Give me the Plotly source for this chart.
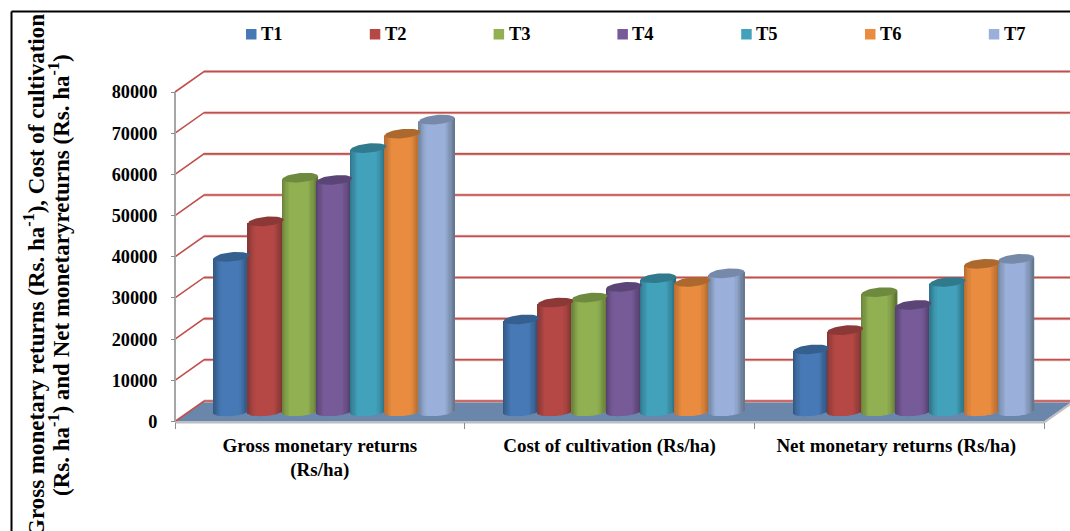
import math
import plotly.graph_objects as go

# Data
categories = ["Gross monetary returns<br>(Rs/ha)", "Cost of cultivation (Rs/ha)", "Net monetary returns (Rs/ha)"]
treatments = ["T1", "T2", "T3", "T4", "T5", "T6", "T7"]
gross_returns = [37500, 46100, 56700, 56150, 63900, 67400, 70800]
cultivation_cost = [22300, 26400, 27600, 30200, 32300, 31400, 33500]
net_returns = [15000, 19700, 28900, 25800, 31400, 35800, 37000]
y_ticks = [0, 10000, 20000, 30000, 40000, 50000, 60000, 70000, 80000]
title_lines = ["Gross monetary returns (Rs. ha<sup>-1</sup>), Cost of cultivation",
               "(Rs. ha<sup>-1</sup>) and Net monetaryreturns (Rs. ha<sup>-1</sup>)"]

# Cylinder colours: centre, edge, cap
body_colors = ["#4679b5", "#b54845", "#90b052", "#775b98", "#42a2bc", "#e98c40", "#9ab0da"]
edge_colors = ["#2b4d75", "#763230", "#5f7533", "#4c3a63", "#2a6b7d", "#a9642c", "#66788f"]
cap_colors = ["#345f8e", "#8c3836", "#6e8a3f", "#5b4577", "#31798d", "#ad682e", "#7689a8"]
GRID = "#c0504d"
FLOOR = "#6b86ab"
AXIS = "#a6a6a6"
SERIF = "Liberation Serif"

W, H = 1070, 531
AX_LEFT, AX_RIGHT = 175.0, 1044.0
AX_ZERO, AX_TOP = 421.5, 92.0
PX_X = (AX_RIGHT - AX_LEFT) / 3
PX_Y = (AX_ZERO - AX_TOP) / 80000
X_RANGE = [-AX_LEFT / PX_X, (W - AX_LEFT) / PX_X]
Y_RANGE = [-(H - AX_ZERO) / PX_Y, AX_ZERO / PX_Y]

# Oblique depth of the chart box, in axis units
DEPTH_X = 29 / PX_X
DEPTH_Y = 20.5 / PX_Y
PITCH = 34.2 / PX_X
HALF_W = 17.8 / PX_X
CAP_B = 4.6 / PX_Y
CAP_TILT = 1.6 / PX_Y
N_SLICES = 30


def hex_rgb(c):
    return tuple(int(c[i:i + 2], 16) for i in (1, 3, 5))


def mix(a, b, t):
    ra, rb = hex_rgb(a), hex_rgb(b)
    return "rgb(%d,%d,%d)" % tuple(round(p + (q - p) * t) for p, q in zip(ra, rb))


fig = go.Figure()
groups = [gross_returns, cultivation_cost, net_returns]
lift = DEPTH_Y / 2

for s, name in enumerate(treatments):
    xs, widths, bases, heights, colors = [], [], [], [], []
    cap_x, cap_y = [], []
    for g, values in enumerate(groups):
        cx = g + 0.5 + DEPTH_X / 2 + (s - 3) * PITCH
        value = values[s]
        for k in range(N_SLICES):
            u = -1 + (2 * k + 1) / N_SLICES
            xs.append(cx + u * HALF_W)
            widths.append(2 * HALF_W / N_SLICES * 1.25)
            base = lift - CAP_B * math.sqrt(1 - u * u) + CAP_TILT * u
            bases.append(base)
            heights.append(value + lift + CAP_TILT * u - base)
            # Shading falls off towards the sides of the cylinder
            shade = min(1.0, max(0.0, 1 - abs(u + 0.05)) / 0.5) ** 0.75
            colors.append(mix(edge_colors[s], body_colors[s], shade))
        # Elliptical top of the cylinder
        for k in range(49):
            t = 2 * math.pi * k / 48
            cap_x.append(cx + HALF_W * math.cos(t))
            cap_y.append(value + lift + CAP_B * math.sin(t) + CAP_TILT * math.cos(t))
        cap_x.append(None)
        cap_y.append(None)
    fig.add_trace(go.Bar(x=xs, y=heights, base=bases, width=widths, name=name,
                         marker=dict(color=colors, line=dict(width=0)),
                         showlegend=False, hoverinfo="skip"))
    fig.add_trace(go.Scatter(x=cap_x, y=cap_y, mode="lines", fill="toself",
                             fillcolor=cap_colors[s], line=dict(width=0, color=cap_colors[s]),
                             showlegend=False, hoverinfo="skip"))

shapes = []

# Floor of the chart box
shapes.append(dict(type="path", layer="below", line=dict(width=0), fillcolor=FLOOR,
                   path=f"M 0 0 L {DEPTH_X} {DEPTH_Y} L {3 + DEPTH_X} {DEPTH_Y} L 3 0 Z"))
# Gridlines: a short diagonal on the side wall, then across the back wall
for v in y_ticks:
    y_back = v + DEPTH_Y
    shapes.append(dict(type="path", layer="below", line=dict(width=3, color="#e9bdbb"),
                       path=f"M {DEPTH_X} {y_back} L {X_RANGE[1] + 0.1} {y_back}"))
    shapes.append(dict(type="path", layer="below", line=dict(width=1.6, color=GRID),
                       path=f"M 0 {v} L {DEPTH_X} {y_back} L {X_RANGE[1] + 0.1} {y_back}"))
# Front and right floor edges, vertical axis line
edge_drop = 1.1 / PX_Y
shapes.append(dict(type="path", layer="below", line=dict(width=2, color="#bdbdbd"),
                   path=f"M 0 {-edge_drop} L 3 {-edge_drop} L {3 + DEPTH_X} {DEPTH_Y - edge_drop}"))
shapes.append(dict(type="line", layer="below", x0=0, x1=0, y0=0, y1=80000,
                   line=dict(width=2, color=AXIS)))

# Outer frame along the top and left
shapes.append(dict(type="line", xref="paper", yref="paper", x0=11.5 / W, x1=1,
                   y0=1 - 11.5 / H, y1=1 - 11.5 / H, line=dict(width=2, color="#000000")))
shapes.append(dict(type="line", xref="paper", yref="paper", x0=11.5 / W, x1=11.5 / W,
                   y0=0, y1=1 - 11.5 / H, line=dict(width=2, color="#000000")))

annotations = []

# Legend row
for s, name in enumerate(treatments):
    left = 246 + s * 123.8
    shapes.append(dict(type="rect", xref="paper", yref="paper", x0=left / W, x1=(left + 10.5) / W,
                       y0=1 - 39.5 / H, y1=1 - 29 / H, fillcolor=body_colors[s], line=dict(width=0)))
    annotations.append(dict(xref="paper", yref="paper", x=(left + 13) / W, y=1 - 34 / H,
                            xanchor="left", yanchor="middle", text=f"<b>{name}</b>", showarrow=False,
                            font=dict(family=SERIF, size=18.5, color="#000000")))

# Rotated axis title, one annotation per line
for line, x_px, y_px in zip(title_lines, [34, 59], [276, 275]):
    annotations.append(dict(xref="paper", yref="paper", x=x_px / W, y=1 - y_px / H,
                            xanchor="center", yanchor="middle", textangle=-90, showarrow=False,
                            text=f"<b>{line}</b>",
                            font=dict(family=SERIF, size=23, color="#000000")))

fig.update_layout(
    width=W, height=H, autosize=False, margin=dict(l=0, r=0, t=0, b=0),
    paper_bgcolor="#ffffff", plot_bgcolor="#ffffff",
    barmode="overlay", showlegend=False,
    shapes=shapes, annotations=annotations,
    xaxis=dict(type="linear", range=X_RANGE, domain=[0, 1], anchor="free", position=1 - AX_ZERO / H,
               showgrid=False, zeroline=False, showline=False,
               tickmode="array", tickvals=[0.5, 1.5, 2.49], ticktext=[f"<b>{c}</b>" for c in categories],
               ticks="", ticklabelstandoff=10,
               tickfont=dict(family=SERIF, size=19, color="#000000"),
               minor=dict(tickmode="array", tickvals=[0, 1, 2, 3], ticks="outside", ticklen=6,
                          tickwidth=1, tickcolor="#8c8c8c")),
    yaxis=dict(range=Y_RANGE, domain=[0, 1], anchor="free", position=AX_LEFT / W,
               showgrid=False, zeroline=False, showline=False,
               tickmode="array", tickvals=y_ticks, ticktext=[f"<b>{v}</b>" for v in y_ticks],
               ticks="outside", ticklen=4, tickwidth=1, tickcolor="#8c8c8c", ticklabelstandoff=10,
               tickfont=dict(family=SERIF, size=18.3, color="#000000")),
)

fig.write_html("out.html")
